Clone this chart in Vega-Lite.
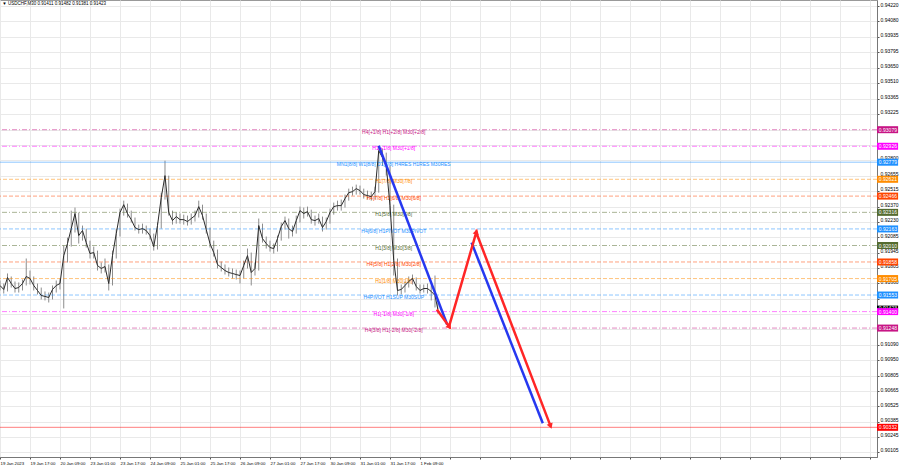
{
  "$schema": "https://vega.github.io/schema/vega-lite/v6.json",
  "width": 877,
  "height": 457,
  "autosize": {"type": "none"},
  "padding": {"left": 0, "top": 0, "right": 23, "bottom": 11},
  "background": "white",
  "config": {
    "font": "Liberation Sans",
    "view": {"stroke": "#9a9a9a", "strokeWidth": 1},
    "axis": {"labelFont": "Liberation Sans", "labelColor": "#000000", "labelFontSize": 5, "gridColor": "#e9e9e9", "gridWidth": 1, "tickColor": "#555555", "domainColor": "#777777", "labelOverlap": false, "labelFlush": false, "title": null, "zindex": 0}
  },
  "datasets": {
    "px": [
      {"b":0,"c":0.91641,"h":0.91687,"l":0.91595},
      {"b":4,"c":0.91604,"h":0.91659,"l":0.91567},
      {"b":8,"c":0.91715,"h":0.91752,"l":0.91586},
      {"b":12,"c":0.91659,"h":0.91724,"l":0.91622},
      {"b":16,"c":0.91613,"h":0.91678,"l":0.91576},
      {"b":20,"c":0.91622,"h":0.91669,"l":0.91576},
      {"b":24,"c":0.91659,"h":0.91696,"l":0.91595},
      {"b":28,"c":0.91724,"h":0.91890,"l":0.91641},
      {"b":32,"c":0.91706,"h":0.91779,"l":0.91650},
      {"b":36,"c":0.91641,"h":0.91724,"l":0.91595},
      {"b":40,"c":0.91595,"h":0.91659,"l":0.91558},
      {"b":44,"c":0.91549,"h":0.91622,"l":0.91512},
      {"b":48,"c":0.91540,"h":0.91586,"l":0.91503},
      {"b":52,"c":0.91530,"h":0.91576,"l":0.91484},
      {"b":56,"c":0.91604,"h":0.91641,"l":0.91512},
      {"b":60,"c":0.91641,"h":0.91687,"l":0.91576},
      {"b":64,"c":0.91659,"h":0.91706,"l":0.91604},
      {"b":68,"c":0.91917,"h":0.92009,"l":0.91429},
      {"b":72,"c":0.92028,"h":0.92083,"l":0.91853},
      {"b":76,"c":0.92166,"h":0.92332,"l":0.92000},
      {"b":80,"c":0.92305,"h":0.92360,"l":0.92130},
      {"b":84,"c":0.92102,"h":0.92314,"l":0.92028},
      {"b":88,"c":0.92148,"h":0.92194,"l":0.92055},
      {"b":92,"c":0.92037,"h":0.92166,"l":0.91991},
      {"b":96,"c":0.91936,"h":0.92055,"l":0.91890},
      {"b":100,"c":0.91945,"h":0.92000,"l":0.91890},
      {"b":104,"c":0.91825,"h":0.91963,"l":0.91779},
      {"b":108,"c":0.91798,"h":0.91853,"l":0.91752},
      {"b":112,"c":0.91816,"h":0.91890,"l":0.91761},
      {"b":116,"c":0.91659,"h":0.91835,"l":0.91595},
      {"b":120,"c":0.91917,"h":0.91963,"l":0.91641},
      {"b":124,"c":0.92120,"h":0.92166,"l":0.91890},
      {"b":128,"c":0.92314,"h":0.92351,"l":0.92093},
      {"b":132,"c":0.92387,"h":0.92424,"l":0.92286},
      {"b":136,"c":0.92305,"h":0.92397,"l":0.92268},
      {"b":140,"c":0.92249,"h":0.92332,"l":0.92222},
      {"b":144,"c":0.92176,"h":0.92268,"l":0.92148},
      {"b":148,"c":0.92157,"h":0.92203,"l":0.92120},
      {"b":152,"c":0.92166,"h":0.92212,"l":0.92120},
      {"b":156,"c":0.92148,"h":0.92194,"l":0.92111},
      {"b":160,"c":0.92102,"h":0.92166,"l":0.92065},
      {"b":164,"c":0.92000,"h":0.92120,"l":0.91963},
      {"b":168,"c":0.92194,"h":0.92222,"l":0.91973},
      {"b":172,"c":0.92452,"h":0.92498,"l":0.92166},
      {"b":176,"c":0.92655,"h":0.92793,"l":0.92434},
      {"b":180,"c":0.92314,"h":0.92655,"l":0.92286},
      {"b":184,"c":0.92240,"h":0.92332,"l":0.92203},
      {"b":188,"c":0.92277,"h":0.92314,"l":0.92212},
      {"b":192,"c":0.92249,"h":0.92305,"l":0.92212},
      {"b":196,"c":0.92249,"h":0.92295,"l":0.92203},
      {"b":200,"c":0.92231,"h":0.92286,"l":0.92194},
      {"b":204,"c":0.92259,"h":0.92305,"l":0.92203},
      {"b":208,"c":0.92286,"h":0.92332,"l":0.92231},
      {"b":212,"c":0.92369,"h":0.92424,"l":0.92268},
      {"b":216,"c":0.92286,"h":0.92387,"l":0.92249},
      {"b":220,"c":0.92157,"h":0.92305,"l":0.92120},
      {"b":224,"c":0.92028,"h":0.92176,"l":0.91991},
      {"b":228,"c":0.91945,"h":0.92055,"l":0.91908},
      {"b":232,"c":0.91835,"h":0.91973,"l":0.91798},
      {"b":236,"c":0.91807,"h":0.91862,"l":0.91770},
      {"b":240,"c":0.91779,"h":0.91835,"l":0.91742},
      {"b":244,"c":0.91761,"h":0.91807,"l":0.91724},
      {"b":248,"c":0.91752,"h":0.91798,"l":0.91706},
      {"b":252,"c":0.91742,"h":0.91788,"l":0.91696},
      {"b":256,"c":0.91733,"h":0.91779,"l":0.91659},
      {"b":260,"c":0.91825,"h":0.91871,"l":0.91706},
      {"b":264,"c":0.91917,"h":0.91982,"l":0.91798},
      {"b":268,"c":0.91761,"h":0.91945,"l":0.91641},
      {"b":272,"c":0.91798,"h":0.91853,"l":0.91733},
      {"b":276,"c":0.92194,"h":0.92259,"l":0.91779},
      {"b":280,"c":0.92074,"h":0.92212,"l":0.92037},
      {"b":284,"c":0.92028,"h":0.92093,"l":0.91982},
      {"b":288,"c":0.91991,"h":0.92055,"l":0.91954},
      {"b":292,"c":0.91982,"h":0.92028,"l":0.91936},
      {"b":296,"c":0.92074,"h":0.92102,"l":0.91954},
      {"b":300,"c":0.92185,"h":0.92222,"l":0.92055},
      {"b":304,"c":0.92240,"h":0.92277,"l":0.92157},
      {"b":308,"c":0.92166,"h":0.92259,"l":0.92074},
      {"b":312,"c":0.92139,"h":0.92194,"l":0.92093},
      {"b":316,"c":0.92240,"h":0.92286,"l":0.92120},
      {"b":320,"c":0.92332,"h":0.92369,"l":0.92222},
      {"b":324,"c":0.92305,"h":0.92360,"l":0.92259},
      {"b":328,"c":0.92323,"h":0.92369,"l":0.92277},
      {"b":332,"c":0.92249,"h":0.92341,"l":0.92212},
      {"b":336,"c":0.92240,"h":0.92286,"l":0.92194},
      {"b":340,"c":0.92259,"h":0.92305,"l":0.92212},
      {"b":344,"c":0.92176,"h":0.92277,"l":0.92139},
      {"b":348,"c":0.92231,"h":0.92268,"l":0.92157},
      {"b":352,"c":0.92314,"h":0.92351,"l":0.92212},
      {"b":356,"c":0.92369,"h":0.92406,"l":0.92295},
      {"b":360,"c":0.92378,"h":0.92424,"l":0.92332},
      {"b":364,"c":0.92378,"h":0.92434,"l":0.92332},
      {"b":368,"c":0.92443,"h":0.92480,"l":0.92360},
      {"b":372,"c":0.92498,"h":0.92535,"l":0.92424},
      {"b":376,"c":0.92507,"h":0.92553,"l":0.92471},
      {"b":380,"c":0.92535,"h":0.92572,"l":0.92480},
      {"b":384,"c":0.92517,"h":0.92563,"l":0.92480},
      {"b":388,"c":0.92480,"h":0.92535,"l":0.92443},
      {"b":392,"c":0.92471,"h":0.92517,"l":0.92434},
      {"b":396,"c":0.92461,"h":0.92507,"l":0.92424},
      {"b":400,"c":0.92507,"h":0.92553,"l":0.92434},
      {"b":404,"c":0.92885,"h":0.92922,"l":0.92498},
      {"b":408,"c":0.92821,"h":0.92904,"l":0.92747},
      {"b":412,"c":0.92747,"h":0.92867,"l":0.92655},
      {"b":416,"c":0.92378,"h":0.92747,"l":0.92314},
      {"b":420,"c":0.91871,"h":0.92387,"l":0.91733},
      {"b":424,"c":0.91595,"h":0.91890,"l":0.91549},
      {"b":428,"c":0.91604,"h":0.91650,"l":0.91558},
      {"b":432,"c":0.91641,"h":0.91678,"l":0.91576},
      {"b":436,"c":0.91678,"h":0.91724,"l":0.91622},
      {"b":440,"c":0.91706,"h":0.91742,"l":0.91650},
      {"b":444,"c":0.91632,"h":0.91715,"l":0.91595},
      {"b":448,"c":0.91595,"h":0.91650,"l":0.91567},
      {"b":452,"c":0.91613,"h":0.91650,"l":0.91576},
      {"b":456,"c":0.91613,"h":0.91659,"l":0.91567},
      {"b":460,"c":0.91586,"h":0.91641,"l":0.91503},
      {"b":464,"c":0.91549,"h":0.91733,"l":0.91438},
      {"b":467,"c":0.91423,"h":0.91482,"l":0.91381}
    ],
    "lv": [
      {"p":0.93079,"m":"+2/8","t":"H4[+1/8] H1[+2/8] M30[+2/8]"},
      {"p":0.92926,"m":"+1/8","t":"H1[+1/8] M30[+1/8]"},
      {"p":0.92779,"m":"8/8","t":"MN1[8/8] W1[8/8] D1[8/8] H4RES H1RES M30RES"},
      {"p":0.92621,"m":"7/8","t":"H1[7/8] M30[7/8]"},
      {"p":0.92466,"m":"6/8","t":"H4[7/8] H1[6/8] M30[6/8]"},
      {"p":0.92316,"m":"5/8","t":"H1[5/8] M30[5/8]"},
      {"p":0.92163,"m":"4/8","t":"H4[6/8] H1PIVOT M30PIVOT"},
      {"p":0.92010,"m":"3/8","t":"H1[3/8] M30[3/8]"},
      {"p":0.91858,"m":"2/8","t":"H4[5/8] H1[2/8] M30[2/8]"},
      {"p":0.91705,"m":"1/8","t":"H1[1/8] M30[1/8]"},
      {"p":0.91553,"m":"0/8","t":"H4PIVOT H1SUP M30SUP"},
      {"p":0.91400,"m":"-1/8","t":"H1[-1/8] M30[-1/8]"},
      {"p":0.91248,"m":"-2/8","t":"H4[3/8] H1[-2/8] M30[-2/8]"},
      {"p":0.90332,"m":"target","t":""}
    ],
    "bid": [{"p":0.91423}],
    "zz": [
      {"i":0,"b":466,"p":0.91420},
      {"i":1,"b":479,"p":0.91263},
      {"i":2,"b":508,"p":0.92130},
      {"i":3,"b":587,"p":0.90350}
    ],
    "fc": [
      {"s":1,"b":404,"p":0.92931},
      {"s":1,"b":477,"p":0.91281},
      {"s":2,"b":503,"p":0.92037},
      {"s":2,"b":579,"p":0.90369}
    ],
    "ttl": [{"t":"▼ USDCHF,M30  0.91411 0.91482 0.91381 0.91423"}]
  },
  "layer": [
    {
      "data": {"name": "px"},
      "mark": {"type": "rule", "color": "#8c8c8c", "strokeWidth": 1},
      "encoding": {
        "x": {"field": "b", "type": "quantitative",
              "scale": {"domain": [0, 935.5], "nice": false, "zero": false},
              "axis": {"orient": "bottom", "values": [0,32,64,96,128,160,192,224,256,288,320,352,384,416,448,480,512,544,576,608,640,672,704,736,768,800,832,864,896,928],
                       "tickCount": 200,
                       "labelExpr": "datum.value <= 448 ? ['19 Jan 2023','19 Jan 17:00','20 Jan 09:00','23 Jan 01:00','23 Jan 17:00','24 Jan 09:00','25 Jan 01:00','25 Jan 17:00','26 Jan 09:00','27 Jan 01:00','27 Jan 17:00','30 Jan 09:00','31 Jan 01:00','31 Jan 17:00','1 Feb 09:00'][datum.value/32] : ''",
                       "labelAlign": "left", "labelPadding": 2, "tickSize": 2, "grid": true, "labelBaseline": "top", "labelOverlap": false, "labelFontSize": 4.3}},
        "y": {"field": "l", "type": "quantitative",
              "scale": {"domain": [0.90058, 0.94276], "nice": false, "zero": false},
              "axis": {"orient": "right", "values": [0.94220,0.94080,0.93935,0.93795,0.93650,0.93510,0.93365,0.93225,0.93080,0.92940,0.92800,0.92655,0.92515,0.92370,0.92230,0.92085,0.91945,0.91805,0.91660,0.91520,0.91375,0.91235,0.91090,0.90950,0.90805,0.90665,0.90525,0.90385,0.90245,0.90105],
                       "tickCount": 200,
                       "labelExpr": "indexof(['0.93080','0.92940','0.91520','0.91375','0.91235'], datum.label) >= 0 ? '' : datum.label",
                       "format": ".5f", "labelPadding": 1, "labelOffset": -2, "tickSize": 2, "grid": true, "labelOverlap": false, "labelFontSize": 5}},
        "y2": {"field": "h"}
      }
    },
    {
      "data": {"name": "lv"},
      "mark": {"type": "rule", "strokeWidth": 1, "opacity": 0.5},
      "encoding": {
        "y": {"field": "p", "type": "quantitative", "scale": {"domain": [0.90058, 0.94276], "nice": false, "zero": false}},
        "color": {"field": "m", "type": "nominal", "legend": null,
                  "scale": {"domain": ["+2/8","+1/8","8/8","7/8","6/8","5/8","4/8","3/8","2/8","1/8","0/8","-1/8","-2/8","target"],
                            "range": ["#c71585","#ff00ff","#1e90ff","#ff8c00","#ff4500","#556b2f","#1e90ff","#556b2f","#ff4500","#ff8c00","#1e90ff","#ff00ff","#c71585","#ff0000"]}},
        "strokeDash": {"field": "m", "type": "nominal", "legend": null,
                  "scale": {"domain": ["+2/8","+1/8","8/8","7/8","6/8","5/8","4/8","3/8","2/8","1/8","0/8","-1/8","-2/8","target"],
                            "range": [[5,2,1,2],[5,2,1,2],[1,0],[4,2],[4,2],[5,2,1,2],[4,2],[5,2,1,2],[4,2],[4,2],[4,2],[5,2,1,2],[5,2,1,2],[1,0]]}}
      }
    },
    {
      "data": {"name": "lv"},
      "transform": [{"filter": "datum.t != ''"}],
      "mark": {"type": "text", "fontSize": 5, "align": "center", "baseline": "middle", "dy": 2},
      "encoding": {
        "x": {"datum": 420, "type": "quantitative", "scale": {"domain": [0, 935.5], "nice": false, "zero": false}},
        "y": {"field": "p", "type": "quantitative", "scale": {"domain": [0.90058, 0.94276], "nice": false, "zero": false}},
        "text": {"field": "t"},
        "color": {"field": "m", "type": "nominal", "legend": null}
      }
    },
    {
      "data": {"name": "px"},
      "mark": {"type": "line", "color": "#2b2b2b", "strokeWidth": 1},
      "encoding": {
        "x": {"field": "b", "type": "quantitative", "scale": {"domain": [0, 935.5], "nice": false, "zero": false}},
        "y": {"field": "c", "type": "quantitative", "scale": {"domain": [0.90058, 0.94276], "nice": false, "zero": false}}
      }
    },
    {
      "data": {"name": "fc"},
      "mark": {"type": "line", "color": "#2638f0", "strokeWidth": 2.5},
      "encoding": {
        "x": {"field": "b", "type": "quantitative", "scale": {"domain": [0, 935.5], "nice": false, "zero": false}},
        "y": {"field": "p", "type": "quantitative", "scale": {"domain": [0.90058, 0.94276], "nice": false, "zero": false}},
        "detail": {"field": "s"}
      }
    },
    {
      "data": {"name": "zz"},
      "mark": {"type": "line", "color": "#ff2626", "strokeWidth": 2.5},
      "encoding": {
        "x": {"field": "b", "type": "quantitative", "scale": {"domain": [0, 935.5], "nice": false, "zero": false}},
        "y": {"field": "p", "type": "quantitative", "scale": {"domain": [0.90058, 0.94276], "nice": false, "zero": false}},
        "order": {"field": "i"}
      }
    },
    {
      "data": {"name": "zz"},
      "transform": [{"filter": "datum.i == 1"}],
      "mark": {"type": "point", "shape": "triangle", "filled": true, "color": "#ff2626", "size": 40, "angle": 143, "opacity": 1},
      "encoding": {
        "x": {"field": "b", "type": "quantitative", "scale": {"domain": [0, 935.5], "nice": false, "zero": false}},
        "y": {"field": "p", "type": "quantitative", "scale": {"domain": [0.90058, 0.94276], "nice": false, "zero": false}}
      }
    },
    {
      "data": {"name": "zz"},
      "transform": [{"filter": "datum.i == 2"}],
      "mark": {"type": "point", "shape": "triangle", "filled": true, "color": "#ff2626", "size": 40, "angle": 16, "opacity": 1},
      "encoding": {
        "x": {"field": "b", "type": "quantitative", "scale": {"domain": [0, 935.5], "nice": false, "zero": false}},
        "y": {"field": "p", "type": "quantitative", "scale": {"domain": [0.90058, 0.94276], "nice": false, "zero": false}}
      }
    },
    {
      "data": {"name": "zz"},
      "transform": [{"filter": "datum.i == 3"}],
      "mark": {"type": "point", "shape": "triangle", "filled": true, "color": "#ff2626", "size": 40, "angle": 159, "opacity": 1},
      "encoding": {
        "x": {"field": "b", "type": "quantitative", "scale": {"domain": [0, 935.5], "nice": false, "zero": false}},
        "y": {"field": "p", "type": "quantitative", "scale": {"domain": [0.90058, 0.94276], "nice": false, "zero": false}}
      }
    },
    {
      "data": {"name": "bid"},
      "mark": {"type": "rule", "strokeWidth": 7, "strokeCap": "butt", "color": "#000000"},
      "encoding": {
        "x": {"datum": 935.5, "type": "quantitative", "scale": {"domain": [0, 935.5], "nice": false, "zero": false}},
        "x2": {"datum": 958},
        "y": {"field": "p", "type": "quantitative", "scale": {"domain": [0.90058, 0.94276], "nice": false, "zero": false}}
      }
    },
    {
      "data": {"name": "bid"},
      "mark": {"type": "text", "fontSize": 5, "align": "left", "baseline": "middle", "color": "#ffffff", "dy": -1},
      "encoding": {
        "x": {"datum": 937.5, "type": "quantitative", "scale": {"domain": [0, 935.5], "nice": false, "zero": false}},
        "y": {"field": "p", "type": "quantitative", "scale": {"domain": [0.90058, 0.94276], "nice": false, "zero": false}},
        "text": {"field": "p", "format": ".5f"}
      }
    },
    {
      "data": {"name": "lv"},
      "mark": {"type": "rule", "strokeWidth": 7, "strokeCap": "butt"},
      "encoding": {
        "x": {"datum": 935.5, "type": "quantitative", "scale": {"domain": [0, 935.5], "nice": false, "zero": false}},
        "x2": {"datum": 958},
        "y": {"field": "p", "type": "quantitative", "scale": {"domain": [0.90058, 0.94276], "nice": false, "zero": false}},
        "color": {"field": "m", "type": "nominal", "legend": null}
      }
    },
    {
      "data": {"name": "lv"},
      "mark": {"type": "text", "fontSize": 5, "align": "left", "baseline": "middle", "color": "#ffffff"},
      "encoding": {
        "x": {"datum": 937.5, "type": "quantitative", "scale": {"domain": [0, 935.5], "nice": false, "zero": false}},
        "y": {"field": "p", "type": "quantitative", "scale": {"domain": [0.90058, 0.94276], "nice": false, "zero": false}},
        "text": {"field": "p", "format": ".5f"}
      }
    },
    {
      "data": {"name": "ttl"},
      "mark": {"type": "text", "fontSize": 4.5, "align": "left", "baseline": "middle", "color": "#000000"},
      "encoding": {
        "x": {"datum": 2.5, "type": "quantitative", "scale": {"domain": [0, 935.5], "nice": false, "zero": false}},
        "y": {"datum": 0.94236, "type": "quantitative", "scale": {"domain": [0.90058, 0.94276], "nice": false, "zero": false}},
        "text": {"field": "t"}
      }
    }
  ]
}
